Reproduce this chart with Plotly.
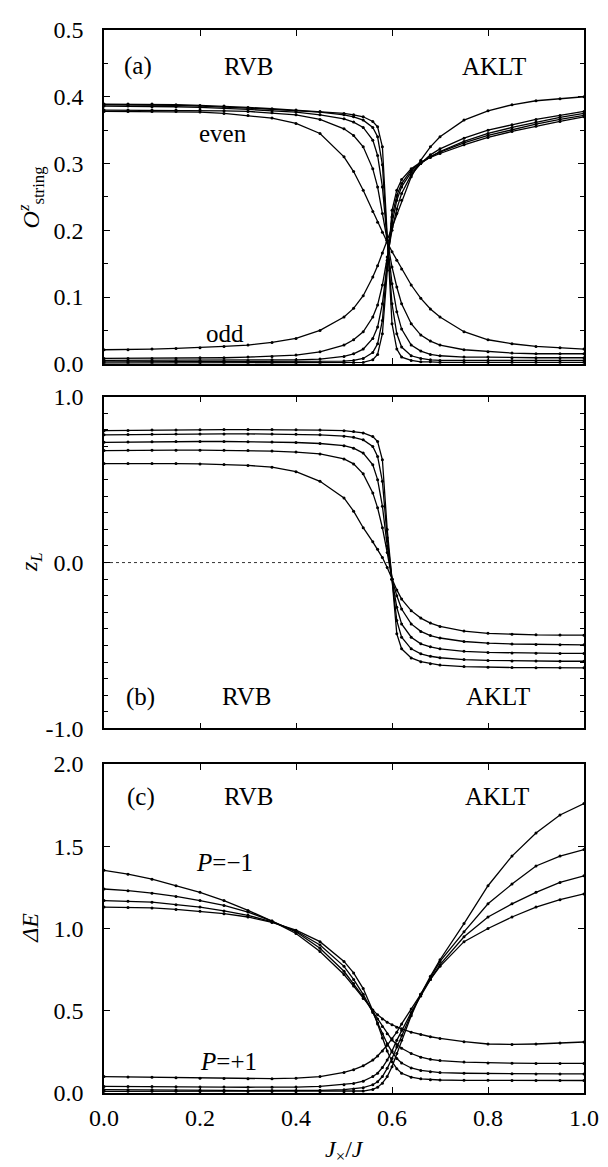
import plotly.graph_objects as go

# shared abscissa (J_x / J)
XG = [0.0, 0.05, 0.1, 0.15, 0.2, 0.25, 0.3, 0.35, 0.4, 0.45, 0.5, 0.52, 0.54, 0.56, 0.57,
      0.58, 0.59, 0.6, 0.61, 0.62, 0.64, 0.66, 0.68, 0.7, 0.75, 0.8, 0.85, 0.9, 0.95, 1.0]

# (a) string order parameter, even-type ends
E1 = [.378, .378, .378, .378, .377, .375, .372, .368, .360, .345, .310, .288, .260, .228, .212,
      .197, .182, .168, .155, .142, .118, .098, .082, .070, .048, .036, .030, .026, .024, .022]
E2 = [.380, .380, .380, .380, .380, .379, .378, .376, .373, .366, .352, .342, .325, .292, .265,
      .225, .183, .145, .115, .090, .060, .043, .034, .028, .021, .018, .016, .015, .015, .015]
E3 = [.386, .386, .385, .385, .384, .383, .381, .379, .377, .373, .367, .362, .354, .335, .312,
      .265, .185, .120, .078, .052, .028, .019, .014, .012, .010, .010, .009, .009, .009, .009]
E4 = [.388, .388, .388, .387, .386, .385, .383, .381, .379, .377, .373, .370, .365, .354, .340,
      .298, .185, .090, .045, .025, .012, .008, .006, .005, .005, .005, .005, .005, .005, .005]
E5 = [.389, .389, .389, .388, .387, .386, .384, .382, .380, .378, .375, .373, .370, .363, .355,
      .325, .190, .060, .022, .010, .005, .003, .003, .002, .002, .002, .002, .002, .002, .002]
# (a) odd-type ends
O1 = [.021, .021, .022, .023, .024, .026, .028, .032, .038, .050, .070, .083, .102, .130, .147,
      .166, .185, .205, .225, .245, .280, .305, .325, .340, .365, .379, .388, .394, .397, .400]
O2 = [.008, .008, .008, .008, .009, .009, .010, .011, .013, .018, .028, .036, .048, .070, .088,
      .118, .160, .200, .232, .255, .283, .300, .313, .322, .338, .350, .358, .366, .372, .378]
O3 = [.005, .005, .005, .005, .005, .005, .005, .006, .006, .007, .011, .015, .022, .038, .055,
      .090, .155, .210, .245, .265, .287, .300, .310, .318, .333, .345, .354, .362, .369, .375]
O4 = [.003, .003, .003, .003, .003, .003, .003, .003, .003, .003, .004, .005, .008, .017, .030,
      .065, .150, .220, .252, .270, .290, .301, .310, .317, .331, .342, .351, .359, .366, .372]
O5 = [.001, .001, .001, .001, .001, .001, .001, .001, .001, .001, .001, .001, .002, .006, .014,
      .045, .140, .230, .260, .276, .292, .302, .309, .315, .328, .339, .348, .356, .363, .370]

# (b) z_L
B1 = [.597, .598, .598, .597, .595, .592, .586, .575, .548, .490, .390, .310, .210, .125, .080,
      .030, -.030, -.100, -.165, -.220, -.290, -.335, -.365, -.385, -.413, -.427, -.433, -.436, -.437, -.438]
B2 = [.675, .677, .678, .678, .678, .677, .675, .672, .666, .655, .625, .595, .535, .420, .330,
      .210, .060, -.100, -.200, -.280, -.370, -.415, -.440, -.455, -.476, -.486, -.491, -.494, -.495, -.496]
B3 = [.725, .727, .729, .730, .730, .730, .729, .727, .724, .718, .705, .690, .660, .590, .500,
      .340, .100, -.100, -.270, -.370, -.450, -.490, -.508, -.520, -.535, -.542, -.545, -.547, -.548, -.548]
B4 = [.770, .772, .774, .775, .776, .776, .776, .775, .773, .770, .762, .755, .740, .700, .640,
      .490, .150, -.100, -.350, -.450, -.520, -.550, -.565, -.574, -.585, -.590, -.593, -.594, -.595, -.595]
B5 = [.795, .797, .799, .800, .801, .802, .802, .802, .801, .799, .795, .790, .782, .760, .730,
      .620, .200, -.100, -.430, -.520, -.575, -.598, -.610, -.618, -.627, -.631, -.633, -.634, -.635, -.635]

# (c) gaps, P = -1 branch
D1 = [1.354, 1.33, 1.30, 1.26, 1.22, 1.17, 1.11, 1.045, .970, .860, .720, .650, .575, .505, .475,
      .450, .430, .415, .400, .390, .370, .355, .342, .332, .312, .298, .295, .298, .304, .310]
D2 = [1.24, 1.23, 1.215, 1.195, 1.17, 1.14, 1.10, 1.045, .980, .880, .740, .665, .585, .495, .450,
      .405, .360, .322, .295, .272, .240, .218, .205, .197, .188, .183, .181, .180, .180, .180]
D3 = [1.17, 1.165, 1.16, 1.145, 1.13, 1.107, 1.08, 1.04, .985, .900, .770, .690, .600, .490, .425,
      .360, .300, .250, .210, .182, .152, .137, .129, .124, .120, .118, .117, .116, .116, .116]
D4 = [1.13, 1.128, 1.125, 1.116, 1.105, 1.09, 1.07, 1.037, .990, .920, .800, .730, .635, .500, .420,
      .335, .255, .190, .148, .120, .096, .086, .081, .079, .077, .077, .076, .076, .076, .076]
# (c) gaps, P = +1 branch
R1 = [.100, .098, .095, .092, .090, .088, .087, .087, .090, .100, .125, .142, .165, .200, .225,
      .255, .290, .330, .370, .420, .510, .600, .690, .770, .920, 1.00, 1.07, 1.13, 1.175, 1.21]
R2 = [.040, .040, .039, .038, .037, .036, .035, .035, .036, .040, .050, .058, .072, .100, .120,
      .155, .200, .255, .320, .380, .490, .590, .690, .780, .950, 1.07, 1.15, 1.22, 1.28, 1.32]
R3 = [.020, .020, .019, .018, .017, .016, .015, .015, .015, .016, .020, .024, .032, .050, .068,
      .100, .150, .210, .280, .350, .480, .600, .700, .800, .980, 1.15, 1.27, 1.38, 1.44, 1.48]
R4 = [.010, .010, .010, .010, .009, .009, .009, .009, .008, .008, .008, .009, .012, .022, .035,
      .060, .100, .160, .240, .320, .470, .600, .710, .810, 1.03, 1.26, 1.44, 1.58, 1.69, 1.76]

X_TICKS = [0.0, 0.2, 0.4, 0.6, 0.8, 1.0]

FONT = "Liberation Serif, Times New Roman, serif"
TSIZE = 24
fig = go.Figure()

def add(series, xa, ya):
    for s in series:
        fig.add_trace(go.Scatter(
            x=XG, y=s, xaxis=xa, yaxis=ya, mode="lines+markers",
            line=dict(color="black", width=1.3),
            marker=dict(color="black", size=3, symbol="circle"),
            showlegend=False, hoverinfo="skip"))

add([E1, E2, E3, E4, E5, O1, O2, O3, O4, O5], "x", "y")
add([B1, B2, B3, B4, B5], "x2", "y2")
add([D1, D2, D3, D4, R1, R2, R3, R4], "x3", "y3")

axis_common = dict(showline=True, linecolor="black", linewidth=1.5, mirror="ticks",
                   ticks="inside", tickcolor="black", ticklen=6, tickwidth=1.2,
                   showgrid=False, zeroline=False,
                   tickfont=dict(family=FONT, size=TSIZE, color="black"))

xa = dict(range=[0, 1], tickvals=X_TICKS, **axis_common)
# page body has an 8px default margin: the figure is sized/margined to compensate
fig.update_layout(
    xaxis=dict(xa, anchor="y", showticklabels=False),
    xaxis2=dict(xa, anchor="y2", showticklabels=False),
    xaxis3=dict(xa, anchor="y3", showticklabels=True, tickformat=".1f", ticklabelstandoff=2),
    yaxis=dict(axis_common, anchor="x", domain=[0.686, 1.0], range=[0, 0.5], dtick=0.1,
               tickformat=".1f", ticklabelstandoff=14,
               minor=dict(dtick=0.05, ticks="inside", ticklen=4, tickcolor="black")),
    yaxis2=dict(axis_common, anchor="x2", domain=[0.343, 0.655], range=[-1, 1],
                tickvals=[-1, 0, 1], ticktext=["-1.0", "0.0", "1.0"], ticklabelstandoff=14,
                minor=dict(dtick=0.1, ticks="inside", ticklen=4, tickcolor="black")),
    yaxis3=dict(axis_common, anchor="x3", domain=[0.0, 0.3095], range=[0, 2], dtick=0.5,
                tickformat=".1f", ticklabelstandoff=14),
    width=600, height=1159,
    margin=dict(l=96, r=22, t=9, b=74),
    plot_bgcolor="white", paper_bgcolor="white",
    font=dict(family=FONT, color="black", size=TSIZE),
)

fig.add_shape(type="line", xref="x2 domain", yref="y2", x0=0, x1=1, y0=0, y1=0,
              line=dict(color="black", width=0.8, dash="dot"))

def txt(x, y, s, xr, yr, size=25):
    fig.add_annotation(x=x, y=y, xref=xr, yref=yr, text=s, showarrow=False,
                       xanchor="center", yanchor="middle",
                       font=dict(family=FONT, size=size, color="black"))

txt(0.07, 0.446, "(a)", "x", "y")
txt(0.30, 0.446, "RVB", "x", "y")
txt(0.813, 0.446, "AKLT", "x", "y")
txt(0.248, 0.345, "even", "x", "y")
txt(0.252, 0.046, "odd", "x", "y")

txt(0.076, -0.81, "(b)", "x2", "y2")
txt(0.297, -0.81, "RVB", "x2", "y2")
txt(0.82, -0.81, "AKLT", "x2", "y2")

txt(0.077, 1.80, "(c)", "x3", "y3")
txt(0.30, 1.80, "RVB", "x3", "y3")
txt(0.818, 1.80, "AKLT", "x3", "y3")
txt(0.251, 1.40, "<i>P</i>=\u22121", "x3", "y3")
txt(0.26, 0.19, "<i>P</i>=+1", "x3", "y3")

# axis titles
def ytitle(ycen, s):
    fig.add_annotation(x=-0.153, y=ycen, xref="paper", yref="paper", text=s,
                       showarrow=False, textangle=-90, xanchor="center", yanchor="middle",
                       font=dict(family=FONT, size=TSIZE, color="black"))

ytitle(0.843, "<i>O</i><sup><i>z</i></sup><sub>string</sub>")
ytitle(0.499, "<i>z<sub>L</sub></i>")
ytitle(0.155, "<i>\u0394E</i>")
fig.add_annotation(x=0.5, y=-0.055, xref="paper", yref="paper",
                   text="<i>J</i><sub>\u00d7</sub>/<i>J</i>", showarrow=False,
                   xanchor="center", yanchor="middle",
                   font=dict(family=FONT, size=TSIZE, color="black"))

fig.write_html("out.html")
